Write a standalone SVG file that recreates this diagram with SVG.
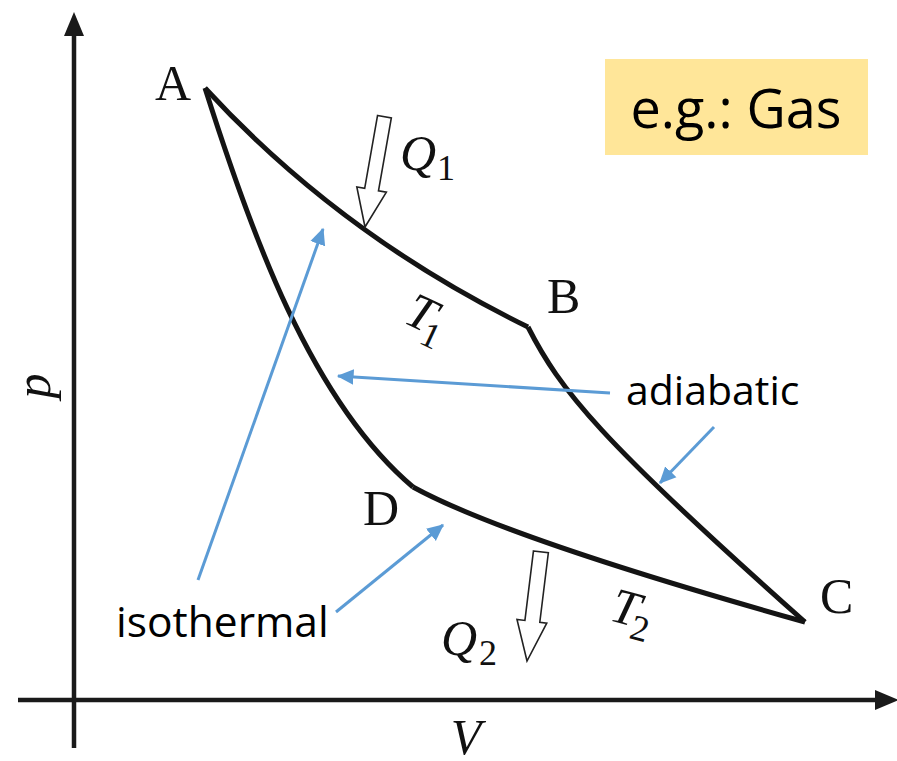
<svg xmlns="http://www.w3.org/2000/svg" width="897" height="761" viewBox="0 0 897 761">
<style>
.axis{stroke:#1a1a1a;stroke-width:4.5;fill:none}
.curve{stroke:#141414;stroke-width:5;fill:none;stroke-linejoin:round}
.blue{stroke:#5B9BD5;stroke-width:3;fill:none}
.hollow{fill:#fff;stroke:#222;stroke-width:1.6;stroke-linejoin:miter}
.ser{font-family:"Liberation Serif","Times New Roman",serif;font-size:50px;fill:#111}
.it{font-style:italic}
.sub{font-size:36px}
.sans{font-family:"Open Sans","Liberation Sans",Arial,sans-serif;fill:#000}
</style>
<defs>
<marker id="ah" markerWidth="6" markerHeight="6" refX="5.2" refY="3" orient="auto" markerUnits="strokeWidth">
<path d="M0,0.4 L5.6,3 L0,5.6 Z" fill="#5B9BD5"/>
</marker>
</defs>
<g id="axes">
<line class="axis" x1="74" y1="30" x2="74" y2="748"/>
<path d="M74,12 L84,36 L64,36 Z" fill="#1a1a1a"/>
<line class="axis" x1="18" y1="700" x2="880" y2="700"/>
<path d="M899,700 L875,690 L875,710 Z" fill="#1a1a1a"/>
<text class="ser it" transform="translate(50,386) rotate(-90)" text-anchor="middle">p</text>
<text class="ser it" x="466" y="754" text-anchor="middle">V</text>
</g>
<g id="cycle">
<path class="curve" d="M205,88 Q340,235 528,327"/>
<path class="curve" d="M528,327 C560,390 600,440 805,622"/>
<path class="curve" d="M805,622 Q506,538 413,487"/>
<path class="curve" d="M413,487 C310,400 250,230 205,88"/>
</g>
<g id="nodeA"><text class="ser" x="155" y="100">A</text></g>
<g id="nodeB"><text class="ser" x="547" y="313">B</text></g>
<g id="nodeC"><text class="ser" x="820" y="613">C</text></g>
<g id="nodeD"><text class="ser" x="363" y="525">D</text></g>
<g id="Q1">
<polygon class="hollow" transform="translate(365,227) rotate(10)" points="-7,-112 7,-112 7,-38 15,-38 0,0 -15,-38 -7,-38"/>
<text class="ser it" x="400" y="170">Q<tspan class="sub" dx="1" dy="10" font-style="normal">1</tspan></text>
</g>
<g id="Q2">
<polygon class="hollow" transform="translate(527,661) rotate(7)" points="-7,-110 8,-110 8,-40 15,-40 0,0 -15,-40 -7,-40"/>
<text class="ser it" x="441" y="655">Q<tspan class="sub" dx="2" dy="10" font-style="normal">2</tspan></text>
</g>
<g id="T1">
<text class="ser it" transform="translate(402,322) rotate(25)">T<tspan class="sub" dx="-5" dy="12" font-style="normal">1</tspan></text>
</g>
<g id="T2">
<text class="ser it" transform="translate(608,620) rotate(15)">T<tspan class="sub" dx="-4" dy="12" font-style="normal">2</tspan></text>
</g>
<g id="gasbox">
<rect x="605" y="59" width="263" height="96" fill="#FFE699"/>
<text class="sans" x="736" y="128" font-size="54" text-anchor="middle">e.g.: Gas</text>
</g>
<g id="adiabaticLabel"><text class="sans" x="626" y="405" font-size="41">adiabatic</text></g>
<g id="isothermalLabel"><text class="sans" x="116" y="637" font-size="42.5">isothermal</text></g>
<g id="connectors">
<line class="blue" x1="198" y1="580" x2="323" y2="229" marker-end="url(#ah)"/>
<line class="blue" x1="336" y1="612" x2="443" y2="525" marker-end="url(#ah)"/>
<line class="blue" x1="610" y1="393" x2="338" y2="376" marker-end="url(#ah)"/>
<line class="blue" x1="714" y1="427" x2="660" y2="483" marker-end="url(#ah)"/>
</g>
</svg>
